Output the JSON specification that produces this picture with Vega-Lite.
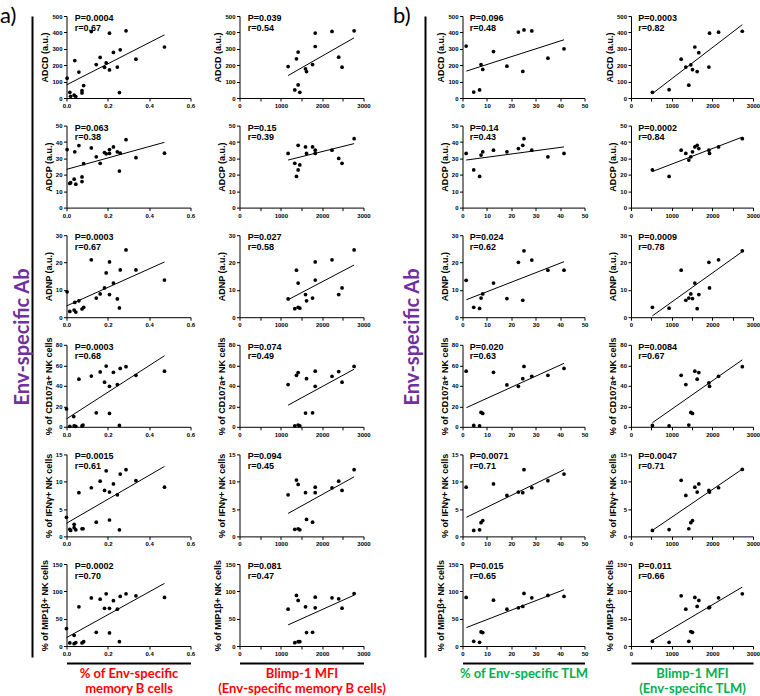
{
"$schema":"https://vega.github.io/schema/vega-lite/v6.json",
"padding":{"left":0,"top":5,"right":0,"bottom":0},
"config":{"view":{"stroke":null},"axis":{"grid":false,"domainColor":"#000","tickColor":"#000","labelColor":"#000","titleColor":"#000","labelFont":"Liberation Sans","labelFontSize":6,"labelFontWeight":"bold","titleFont":"Liberation Sans","titleFontSize":9,"titleFontWeight":"bold","tickSize":3,"labelPadding":1.5,"titlePadding":2,"domainWidth":1,"tickWidth":1,"labelOverlap":false,"labelFlush":false}},
"spacing":4.5,
"hconcat":[
{"width":1,"height":641,"data":{"values":[{"v":0},{"v":1}]},"mark":{"type":"point","opacity":0},
 "encoding":{"y":{"field":"v","type":"quantitative","scale":{"domain":[0,1]},"axis":{"title":"Env-specific Ab","labels":false,"ticks":false,"domainWidth":2,"titleColor":"#7030A0","titleFont":"Lato","titleFontSize":20,"titleFontWeight":"bold","titlePadding":0}}},
 "title":{"text":"a)","anchor":"start","frame":"group","baseline":"top","offset":-15,"dx":-32,"fontSize":22,"font":"Lato","fontWeight":"normal","color":"#000"}},
{"columns":2,"bounds":"flush","spacing":{"row":27.6,"column":49},"concat":[
{"width":124,"height":82,"data":{"values":[{"k":"p","x":0.003,"y":121},{"k":"p","x":0.016,"y":35},{"k":"p","x":0.02,"y":10},{"k":"p","x":0.037,"y":18},{"k":"p","x":0.04,"y":228},{"k":"p","x":0.045,"y":8},{"k":"p","x":0.06,"y":158},{"k":"p","x":0.075,"y":45},{"k":"p","x":0.075,"y":31},{"k":"p","x":0.083,"y":76},{"k":"p","x":0.12,"y":405},{"k":"p","x":0.144,"y":204},{"k":"p","x":0.163,"y":247},{"k":"p","x":0.184,"y":187},{"k":"p","x":0.192,"y":214},{"k":"p","x":0.208,"y":395},{"k":"p","x":0.208,"y":171},{"k":"p","x":0.227,"y":278},{"k":"p","x":0.246,"y":189},{"k":"p","x":0.256,"y":33},{"k":"p","x":0.26,"y":294},{"k":"p","x":0.288,"y":410},{"k":"p","x":0.336,"y":237},{"k":"p","x":0.474,"y":311},{"k":"f","x":0,"y":80},{"k":"f","x":0.474,"y":385},{"k":"a","x":0.04,"y":500,"t":"P=0.0004\nr=0.67"}]},
 "encoding":{"x":{"field":"x","type":"quantitative","scale":{"domain":[0,0.6]},"axis":{"values":[0,0.2,0.4,0.6],"format":".1f","title":null}},"y":{"field":"y","type":"quantitative","scale":{"domain":[0,500]},"axis":{"title":"ADCD (a.u.)","values":[0,100,200,300,400,500]}}},
 "layer":[{"transform":[{"filter":"datum.k=='p'"}],"mark":{"type":"circle","size":14,"color":"#000","opacity":1}},{"transform":[{"filter":"datum.k=='f'"}],"mark":{"type":"line","color":"#000","strokeWidth":1}},{"transform":[{"filter":"datum.k=='a'"}],"mark":{"type":"text","align":"left","baseline":"top","dy":-2,"lineBreak":"\n","font":"Liberation Sans","fontWeight":"bold","fontSize":9,"lineHeight":9.5,"color":"#000"},"encoding":{"text":{"field":"t"}}}]},
{"width":124,"height":82,"data":{"values":[{"k":"p","x":1176,"y":192},{"k":"p","x":1338,"y":49},{"k":"p","x":1378,"y":239},{"k":"p","x":1419,"y":280},{"k":"p","x":1419,"y":80},{"k":"p","x":1459,"y":35},{"k":"p","x":1597,"y":178},{"k":"p","x":1622,"y":161},{"k":"p","x":1768,"y":204},{"k":"p","x":1832,"y":396},{"k":"p","x":1832,"y":314},{"k":"p","x":2238,"y":406},{"k":"p","x":2400,"y":249},{"k":"p","x":2481,"y":188},{"k":"p","x":2773,"y":410},{"k":"f","x":1176,"y":137},{"k":"f","x":2773,"y":367},{"k":"a","x":200,"y":500,"t":"P=0.039\nr=0.54"}]},
 "encoding":{"x":{"field":"x","type":"quantitative","scale":{"domain":[0,3000]},"axis":{"values":[0,500,1000,1500,2000,2500,3000],"labelExpr":"datum.value % 1000 === 0 ? '' + datum.value : ''","title":null}},"y":{"field":"y","type":"quantitative","scale":{"domain":[0,500]},"axis":{"title":"ADCD (a.u.)","values":[0,100,200,300,400,500]}}},
 "layer":[{"transform":[{"filter":"datum.k=='p'"}],"mark":{"type":"circle","size":14,"color":"#000","opacity":1}},{"transform":[{"filter":"datum.k=='f'"}],"mark":{"type":"line","color":"#000","strokeWidth":1}},{"transform":[{"filter":"datum.k=='a'"}],"mark":{"type":"text","align":"left","baseline":"top","dy":-2,"lineBreak":"\n","font":"Liberation Sans","fontWeight":"bold","fontSize":9,"lineHeight":9.5,"color":"#000"},"encoding":{"text":{"field":"t"}}}]},
{"width":124,"height":82,"data":{"values":[{"k":"p","x":0.003,"y":35.4},{"k":"p","x":0.016,"y":14.7},{"k":"p","x":0.02,"y":15.2},{"k":"p","x":0.037,"y":17.3},{"k":"p","x":0.04,"y":34},{"k":"p","x":0.045,"y":14.3},{"k":"p","x":0.06,"y":37.8},{"k":"p","x":0.075,"y":18.7},{"k":"p","x":0.075,"y":15.9},{"k":"p","x":0.083,"y":26.8},{"k":"p","x":0.12,"y":36.4},{"k":"p","x":0.144,"y":31},{"k":"p","x":0.163,"y":27},{"k":"p","x":0.184,"y":33.6},{"k":"p","x":0.192,"y":32.8},{"k":"p","x":0.208,"y":35.4},{"k":"p","x":0.208,"y":33},{"k":"p","x":0.227,"y":37},{"k":"p","x":0.246,"y":34},{"k":"p","x":0.256,"y":22.3},{"k":"p","x":0.26,"y":33.2},{"k":"p","x":0.288,"y":41.4},{"k":"p","x":0.336,"y":30.4},{"k":"p","x":0.474,"y":33.2},{"k":"f","x":0,"y":23.3},{"k":"f","x":0.474,"y":39.8},{"k":"a","x":0.04,"y":50,"t":"P=0.063\nr=0.38"}]},
 "encoding":{"x":{"field":"x","type":"quantitative","scale":{"domain":[0,0.6]},"axis":{"values":[0,0.2,0.4,0.6],"format":".1f","title":null}},"y":{"field":"y","type":"quantitative","scale":{"domain":[0,50]},"axis":{"title":"ADCP (a.u.)","values":[0,10,20,30,40,50]}}},
 "layer":[{"transform":[{"filter":"datum.k=='p'"}],"mark":{"type":"circle","size":14,"color":"#000","opacity":1}},{"transform":[{"filter":"datum.k=='f'"}],"mark":{"type":"line","color":"#000","strokeWidth":1}},{"transform":[{"filter":"datum.k=='a'"}],"mark":{"type":"text","align":"left","baseline":"top","dy":-2,"lineBreak":"\n","font":"Liberation Sans","fontWeight":"bold","fontSize":9,"lineHeight":9.5,"color":"#000"},"encoding":{"text":{"field":"t"}}}]},
{"width":124,"height":82,"data":{"values":[{"k":"p","x":1176,"y":33},{"k":"p","x":1338,"y":27},{"k":"p","x":1378,"y":19},{"k":"p","x":1419,"y":38},{"k":"p","x":1419,"y":23},{"k":"p","x":1459,"y":26},{"k":"p","x":1597,"y":37},{"k":"p","x":1622,"y":33},{"k":"p","x":1768,"y":37},{"k":"p","x":1832,"y":35},{"k":"p","x":1832,"y":33},{"k":"p","x":2238,"y":35},{"k":"p","x":2400,"y":30},{"k":"p","x":2481,"y":27},{"k":"p","x":2773,"y":42},{"k":"f","x":1176,"y":29},{"k":"f","x":2773,"y":39},{"k":"a","x":200,"y":50,"t":"P=0.15\nr=0.39"}]},
 "encoding":{"x":{"field":"x","type":"quantitative","scale":{"domain":[0,3000]},"axis":{"values":[0,500,1000,1500,2000,2500,3000],"labelExpr":"datum.value % 1000 === 0 ? '' + datum.value : ''","title":null}},"y":{"field":"y","type":"quantitative","scale":{"domain":[0,50]},"axis":{"title":"ADCP (a.u.)","values":[0,10,20,30,40,50]}}},
 "layer":[{"transform":[{"filter":"datum.k=='p'"}],"mark":{"type":"circle","size":14,"color":"#000","opacity":1}},{"transform":[{"filter":"datum.k=='f'"}],"mark":{"type":"line","color":"#000","strokeWidth":1}},{"transform":[{"filter":"datum.k=='a'"}],"mark":{"type":"text","align":"left","baseline":"top","dy":-2,"lineBreak":"\n","font":"Liberation Sans","fontWeight":"bold","fontSize":9,"lineHeight":9.5,"color":"#000"},"encoding":{"text":{"field":"t"}}}]},
{"width":124,"height":82,"data":{"values":[{"k":"p","x":0.003,"y":9.3},{"k":"p","x":0.016,"y":2.1},{"k":"p","x":0.037,"y":2.6},{"k":"p","x":0.04,"y":5.4},{"k":"p","x":0.045,"y":1.9},{"k":"p","x":0.06,"y":6},{"k":"p","x":0.075,"y":3},{"k":"p","x":0.083,"y":3.6},{"k":"p","x":0.12,"y":21},{"k":"p","x":0.144,"y":7},{"k":"p","x":0.163,"y":8.5},{"k":"p","x":0.184,"y":10.7},{"k":"p","x":0.192,"y":16.2},{"k":"p","x":0.208,"y":20.2},{"k":"p","x":0.208,"y":8.3},{"k":"p","x":0.227,"y":12.5},{"k":"p","x":0.246,"y":6.7},{"k":"p","x":0.256,"y":3.4},{"k":"p","x":0.26,"y":17.3},{"k":"p","x":0.288,"y":24.6},{"k":"p","x":0.336,"y":17.3},{"k":"p","x":0.474,"y":13.6},{"k":"f","x":0,"y":4.1},{"k":"f","x":0.474,"y":20.2},{"k":"a","x":0.04,"y":30,"t":"P=0.0003\nr=0.67"}]},
 "encoding":{"x":{"field":"x","type":"quantitative","scale":{"domain":[0,0.6]},"axis":{"values":[0,0.2,0.4,0.6],"format":".1f","title":null}},"y":{"field":"y","type":"quantitative","scale":{"domain":[0,30]},"axis":{"title":"ADNP (a.u.)","values":[0,10,20,30]}}},
 "layer":[{"transform":[{"filter":"datum.k=='p'"}],"mark":{"type":"circle","size":14,"color":"#000","opacity":1}},{"transform":[{"filter":"datum.k=='f'"}],"mark":{"type":"line","color":"#000","strokeWidth":1}},{"transform":[{"filter":"datum.k=='a'"}],"mark":{"type":"text","align":"left","baseline":"top","dy":-2,"lineBreak":"\n","font":"Liberation Sans","fontWeight":"bold","fontSize":9,"lineHeight":9.5,"color":"#000"},"encoding":{"text":{"field":"t"}}}]},
{"width":124,"height":82,"data":{"values":[{"k":"p","x":1176,"y":6.7},{"k":"p","x":1338,"y":3.1},{"k":"p","x":1378,"y":17.2},{"k":"p","x":1419,"y":12.5},{"k":"p","x":1419,"y":3.6},{"k":"p","x":1459,"y":3.3},{"k":"p","x":1597,"y":8.3},{"k":"p","x":1622,"y":6},{"k":"p","x":1768,"y":7},{"k":"p","x":1832,"y":20.2},{"k":"p","x":1832,"y":13.6},{"k":"p","x":2238,"y":21},{"k":"p","x":2400,"y":8.3},{"k":"p","x":2481,"y":10.7},{"k":"p","x":2773,"y":24.6},{"k":"f","x":1176,"y":6.4},{"k":"f","x":2773,"y":19.1},{"k":"a","x":200,"y":30,"t":"P=0.027\nr=0.58"}]},
 "encoding":{"x":{"field":"x","type":"quantitative","scale":{"domain":[0,3000]},"axis":{"values":[0,500,1000,1500,2000,2500,3000],"labelExpr":"datum.value % 1000 === 0 ? '' + datum.value : ''","title":null}},"y":{"field":"y","type":"quantitative","scale":{"domain":[0,30]},"axis":{"title":"ADNP (a.u.)","values":[0,10,20,30]}}},
 "layer":[{"transform":[{"filter":"datum.k=='p'"}],"mark":{"type":"circle","size":14,"color":"#000","opacity":1}},{"transform":[{"filter":"datum.k=='f'"}],"mark":{"type":"line","color":"#000","strokeWidth":1}},{"transform":[{"filter":"datum.k=='a'"}],"mark":{"type":"text","align":"left","baseline":"top","dy":-2,"lineBreak":"\n","font":"Liberation Sans","fontWeight":"bold","fontSize":9,"lineHeight":9.5,"color":"#000"},"encoding":{"text":{"field":"t"}}}]},
{"width":124,"height":82,"data":{"values":[{"k":"p","x":0,"y":17.4},{"k":"p","x":0.016,"y":0.5},{"k":"p","x":0.035,"y":10},{"k":"p","x":0.037,"y":0.8},{"k":"p","x":0.045,"y":0.5},{"k":"p","x":0.06,"y":46.5},{"k":"p","x":0.075,"y":0.8},{"k":"p","x":0.08,"y":1.7},{"k":"p","x":0.12,"y":49.5},{"k":"p","x":0.144,"y":13.7},{"k":"p","x":0.163,"y":53.5},{"k":"p","x":0.184,"y":43.5},{"k":"p","x":0.192,"y":59.2},{"k":"p","x":0.208,"y":39.5},{"k":"p","x":0.208,"y":13},{"k":"p","x":0.227,"y":53.2},{"k":"p","x":0.246,"y":41.2},{"k":"p","x":0.256,"y":1.3},{"k":"p","x":0.26,"y":56.9},{"k":"p","x":0.288,"y":58.6},{"k":"p","x":0.336,"y":50.2},{"k":"p","x":0.474,"y":54.2},{"k":"f","x":0,"y":7.7},{"k":"f","x":0.474,"y":69.3},{"k":"a","x":0.04,"y":80,"t":"P=0.0003\nr=0.68"}]},
 "encoding":{"x":{"field":"x","type":"quantitative","scale":{"domain":[0,0.6]},"axis":{"values":[0,0.2,0.4,0.6],"format":".1f","title":null}},"y":{"field":"y","type":"quantitative","scale":{"domain":[0,80]},"axis":{"title":"% of CD107a+ NK cells","values":[0,20,40,60,80]}}},
 "layer":[{"transform":[{"filter":"datum.k=='p'"}],"mark":{"type":"circle","size":14,"color":"#000","opacity":1}},{"transform":[{"filter":"datum.k=='f'"}],"mark":{"type":"line","color":"#000","strokeWidth":1}},{"transform":[{"filter":"datum.k=='a'"}],"mark":{"type":"text","align":"left","baseline":"top","dy":-2,"lineBreak":"\n","font":"Liberation Sans","fontWeight":"bold","fontSize":9,"lineHeight":9.5,"color":"#000"},"encoding":{"text":{"field":"t"}}}]},
{"width":124,"height":82,"data":{"values":[{"k":"p","x":1176,"y":41.2},{"k":"p","x":1338,"y":1},{"k":"p","x":1378,"y":50.2},{"k":"p","x":1419,"y":52.9},{"k":"p","x":1419,"y":1.7},{"k":"p","x":1459,"y":1},{"k":"p","x":1597,"y":13.4},{"k":"p","x":1622,"y":46.9},{"k":"p","x":1768,"y":13.7},{"k":"p","x":1832,"y":54.2},{"k":"p","x":1832,"y":39.5},{"k":"p","x":2238,"y":49.2},{"k":"p","x":2400,"y":53.9},{"k":"p","x":2481,"y":43.5},{"k":"p","x":2773,"y":58.9},{"k":"f","x":1176,"y":21.1},{"k":"f","x":2773,"y":56.2},{"k":"a","x":200,"y":80,"t":"P=0.074\nr=0.49"}]},
 "encoding":{"x":{"field":"x","type":"quantitative","scale":{"domain":[0,3000]},"axis":{"values":[0,500,1000,1500,2000,2500,3000],"labelExpr":"datum.value % 1000 === 0 ? '' + datum.value : ''","title":null}},"y":{"field":"y","type":"quantitative","scale":{"domain":[0,80]},"axis":{"title":"% of CD107a+ NK cells","values":[0,20,40,60,80]}}},
 "layer":[{"transform":[{"filter":"datum.k=='p'"}],"mark":{"type":"circle","size":14,"color":"#000","opacity":1}},{"transform":[{"filter":"datum.k=='f'"}],"mark":{"type":"line","color":"#000","strokeWidth":1}},{"transform":[{"filter":"datum.k=='a'"}],"mark":{"type":"text","align":"left","baseline":"top","dy":-2,"lineBreak":"\n","font":"Liberation Sans","fontWeight":"bold","fontSize":9,"lineHeight":9.5,"color":"#000"},"encoding":{"text":{"field":"t"}}}]},
{"width":124,"height":82,"data":{"values":[{"k":"p","x":0,"y":3.5},{"k":"p","x":0.016,"y":1.3},{"k":"p","x":0.02,"y":1.1},{"k":"p","x":0.037,"y":2.2},{"k":"p","x":0.037,"y":1.6},{"k":"p","x":0.045,"y":1.2},{"k":"p","x":0.06,"y":8},{"k":"p","x":0.075,"y":1.4},{"k":"p","x":0.08,"y":1.4},{"k":"p","x":0.12,"y":8.9},{"k":"p","x":0.144,"y":2.6},{"k":"p","x":0.163,"y":10.1},{"k":"p","x":0.184,"y":8.4},{"k":"p","x":0.192,"y":12},{"k":"p","x":0.208,"y":8.1},{"k":"p","x":0.208,"y":3},{"k":"p","x":0.227,"y":9.6},{"k":"p","x":0.246,"y":7.6},{"k":"p","x":0.256,"y":1.2},{"k":"p","x":0.26,"y":11.4},{"k":"p","x":0.288,"y":12.2},{"k":"p","x":0.336,"y":10.2},{"k":"p","x":0.474,"y":9},{"k":"f","x":0,"y":2.4},{"k":"f","x":0.474,"y":12.8},{"k":"a","x":0.04,"y":15,"t":"P=0.0015\nr=0.61"}]},
 "encoding":{"x":{"field":"x","type":"quantitative","scale":{"domain":[0,0.6]},"axis":{"values":[0,0.2,0.4,0.6],"format":".1f","title":null}},"y":{"field":"y","type":"quantitative","scale":{"domain":[0,15]},"axis":{"title":"% of IFNγ+ NK cells","values":[0,5,10,15]}}},
 "layer":[{"transform":[{"filter":"datum.k=='p'"}],"mark":{"type":"circle","size":14,"color":"#000","opacity":1}},{"transform":[{"filter":"datum.k=='f'"}],"mark":{"type":"line","color":"#000","strokeWidth":1}},{"transform":[{"filter":"datum.k=='a'"}],"mark":{"type":"text","align":"left","baseline":"top","dy":-2,"lineBreak":"\n","font":"Liberation Sans","fontWeight":"bold","fontSize":9,"lineHeight":9.5,"color":"#000"},"encoding":{"text":{"field":"t"}}}]},
{"width":124,"height":82,"data":{"values":[{"k":"p","x":1176,"y":7.6},{"k":"p","x":1338,"y":1.3},{"k":"p","x":1378,"y":10.3},{"k":"p","x":1419,"y":9.5},{"k":"p","x":1419,"y":1.4},{"k":"p","x":1459,"y":1.2},{"k":"p","x":1597,"y":8},{"k":"p","x":1622,"y":3.1},{"k":"p","x":1768,"y":2.6},{"k":"p","x":1832,"y":9},{"k":"p","x":1832,"y":8},{"k":"p","x":2238,"y":8.9},{"k":"p","x":2400,"y":10.1},{"k":"p","x":2481,"y":8.4},{"k":"p","x":2773,"y":12.2},{"k":"f","x":1176,"y":4.2},{"k":"f","x":2773,"y":10.9},{"k":"a","x":200,"y":15,"t":"P=0.094\nr=0.45"}]},
 "encoding":{"x":{"field":"x","type":"quantitative","scale":{"domain":[0,3000]},"axis":{"values":[0,500,1000,1500,2000,2500,3000],"labelExpr":"datum.value % 1000 === 0 ? '' + datum.value : ''","title":null}},"y":{"field":"y","type":"quantitative","scale":{"domain":[0,15]},"axis":{"title":"% of IFNγ+ NK cells","values":[0,5,10,15]}}},
 "layer":[{"transform":[{"filter":"datum.k=='p'"}],"mark":{"type":"circle","size":14,"color":"#000","opacity":1}},{"transform":[{"filter":"datum.k=='f'"}],"mark":{"type":"line","color":"#000","strokeWidth":1}},{"transform":[{"filter":"datum.k=='a'"}],"mark":{"type":"text","align":"left","baseline":"top","dy":-2,"lineBreak":"\n","font":"Liberation Sans","fontWeight":"bold","fontSize":9,"lineHeight":9.5,"color":"#000"},"encoding":{"text":{"field":"t"}}}]},
{"width":124,"height":82,"data":{"values":[{"k":"p","x":0,"y":32},{"k":"p","x":0.016,"y":5.5},{"k":"p","x":0.037,"y":19.6},{"k":"p","x":0.037,"y":4.3},{"k":"p","x":0.045,"y":6},{"k":"p","x":0.06,"y":71.6},{"k":"p","x":0.075,"y":5.5},{"k":"p","x":0.083,"y":8},{"k":"p","x":0.12,"y":88},{"k":"p","x":0.144,"y":25},{"k":"p","x":0.163,"y":85.7},{"k":"p","x":0.184,"y":69},{"k":"p","x":0.192,"y":95.5},{"k":"p","x":0.208,"y":69},{"k":"p","x":0.208,"y":24},{"k":"p","x":0.227,"y":83},{"k":"p","x":0.246,"y":67.4},{"k":"p","x":0.256,"y":8},{"k":"p","x":0.26,"y":90.6},{"k":"p","x":0.288,"y":95.5},{"k":"p","x":0.336,"y":91.8},{"k":"p","x":0.474,"y":88.8},{"k":"f","x":0,"y":15.3},{"k":"f","x":0.474,"y":114.5},{"k":"a","x":0.04,"y":150,"t":"P=0.0002\nr=0.70"}]},
 "encoding":{"x":{"field":"x","type":"quantitative","scale":{"domain":[0,0.6]},"axis":{"values":[0,0.2,0.4,0.6],"format":".1f","title":null}},"y":{"field":"y","type":"quantitative","scale":{"domain":[0,150]},"axis":{"title":"% of MIP1β+ NK cells","values":[0,50,100,150]}}},
 "layer":[{"transform":[{"filter":"datum.k=='p'"}],"mark":{"type":"circle","size":14,"color":"#000","opacity":1}},{"transform":[{"filter":"datum.k=='f'"}],"mark":{"type":"line","color":"#000","strokeWidth":1}},{"transform":[{"filter":"datum.k=='a'"}],"mark":{"type":"text","align":"left","baseline":"top","dy":-2,"lineBreak":"\n","font":"Liberation Sans","fontWeight":"bold","fontSize":9,"lineHeight":9.5,"color":"#000"},"encoding":{"text":{"field":"t"}}}]},
{"width":124,"height":82,"data":{"values":[{"k":"p","x":1176,"y":67.4},{"k":"p","x":1338,"y":6},{"k":"p","x":1378,"y":92.5},{"k":"p","x":1419,"y":83.3},{"k":"p","x":1419,"y":8},{"k":"p","x":1459,"y":8},{"k":"p","x":1597,"y":71.6},{"k":"p","x":1622,"y":24.5},{"k":"p","x":1768,"y":25},{"k":"p","x":1832,"y":89.4},{"k":"p","x":1832,"y":69.8},{"k":"p","x":2238,"y":88.2},{"k":"p","x":2400,"y":86.3},{"k":"p","x":2481,"y":69.2},{"k":"p","x":2773,"y":96},{"k":"f","x":1176,"y":38.6},{"k":"f","x":2773,"y":93},{"k":"a","x":200,"y":150,"t":"P=0.081\nr=0.47"}]},
 "encoding":{"x":{"field":"x","type":"quantitative","scale":{"domain":[0,3000]},"axis":{"values":[0,500,1000,1500,2000,2500,3000],"labelExpr":"datum.value % 1000 === 0 ? '' + datum.value : ''","title":null}},"y":{"field":"y","type":"quantitative","scale":{"domain":[0,150]},"axis":{"title":"% of MIP1β+ NK cells","values":[0,50,100,150]}}},
 "layer":[{"transform":[{"filter":"datum.k=='p'"}],"mark":{"type":"circle","size":14,"color":"#000","opacity":1}},{"transform":[{"filter":"datum.k=='f'"}],"mark":{"type":"line","color":"#000","strokeWidth":1}},{"transform":[{"filter":"datum.k=='a'"}],"mark":{"type":"text","align":"left","baseline":"top","dy":-2,"lineBreak":"\n","font":"Liberation Sans","fontWeight":"bold","fontSize":9,"lineHeight":9.5,"color":"#000"},"encoding":{"text":{"field":"t"}}}]},
{"width":124,"height":1,"data":{"values":[{"v":0},{"v":1}]},"mark":{"type":"point","opacity":0},"encoding":{"x":{"field":"v","type":"quantitative","axis":{"title":["% of Env-specific","memory B cells"],"labels":false,"ticks":false,"domainWidth":2,"offset":-11.6,"titleColor":"#FF0000","titleFont":"Lato","titleFontSize":13,"titleFontWeight":"bold","titlePadding":4,"titleLineHeight":15}}}},
{"width":124,"height":1,"data":{"values":[{"v":0},{"v":1}]},"mark":{"type":"point","opacity":0},"encoding":{"x":{"field":"v","type":"quantitative","axis":{"title":["Blimp-1 MFI","(Env-specific memory B cells)"],"labels":false,"ticks":false,"domainWidth":2,"offset":-11.6,"titleColor":"#FF0000","titleFont":"Lato","titleFontSize":13,"titleFontWeight":"bold","titlePadding":4,"titleLineHeight":15}}}}
]},
{"width":42,"height":641,"data":{"values":[{"v":0},{"v":1}]},"mark":{"type":"point","opacity":0},
 "encoding":{"y":{"field":"v","type":"quantitative","scale":{"domain":[0,1]},"axis":{"title":"Env-specific Ab","labels":false,"ticks":false,"domainWidth":2,"offset":-35,"titleColor":"#7030A0","titleFont":"Lato","titleFontSize":20,"titleFontWeight":"bold","titlePadding":3}}},
 "title":{"text":"b)","anchor":"start","frame":"group","baseline":"top","offset":-15,"dx":3,"fontSize":22,"font":"Lato","fontWeight":"normal","color":"#000"}},
{"columns":2,"bounds":"flush","spacing":{"row":27.6,"column":46.5},"concat":[
{"width":122,"height":82,"data":{"values":[{"k":"p","x":1.5,"y":317},{"k":"p","x":4.6,"y":36},{"k":"p","x":7,"y":49},{"k":"p","x":7.6,"y":204},{"k":"p","x":8.3,"y":174},{"k":"p","x":12.7,"y":283},{"k":"p","x":18.2,"y":194},{"k":"p","x":22.9,"y":402},{"k":"p","x":24.7,"y":162},{"k":"p","x":25.2,"y":415},{"k":"p","x":28.4,"y":409},{"k":"p","x":35,"y":243},{"k":"p","x":41.6,"y":300},{"k":"f","x":1.6,"y":164},{"k":"f","x":41.6,"y":355},{"k":"a","x":3,"y":500,"t":"P=0.096\nr=0.48"}]},
 "encoding":{"x":{"field":"x","type":"quantitative","scale":{"domain":[0,50]},"axis":{"values":[0,10,20,30,40,50],"title":null}},"y":{"field":"y","type":"quantitative","scale":{"domain":[0,500]},"axis":{"title":"ADCD (a.u.)","values":[0,100,200,300,400,500]}}},
 "layer":[{"transform":[{"filter":"datum.k=='p'"}],"mark":{"type":"circle","size":14,"color":"#000","opacity":1}},{"transform":[{"filter":"datum.k=='f'"}],"mark":{"type":"line","color":"#000","strokeWidth":1}},{"transform":[{"filter":"datum.k=='a'"}],"mark":{"type":"text","align":"left","baseline":"top","dy":-2,"lineBreak":"\n","font":"Liberation Sans","fontWeight":"bold","fontSize":9,"lineHeight":9.5,"color":"#000"},"encoding":{"text":{"field":"t"}}}]},
{"width":122,"height":82,"data":{"values":[{"k":"p","x":526,"y":35},{"k":"p","x":937,"y":51},{"k":"p","x":1233,"y":237},{"k":"p","x":1348,"y":189},{"k":"p","x":1422,"y":78},{"k":"p","x":1471,"y":202},{"k":"p","x":1512,"y":173},{"k":"p","x":1570,"y":311},{"k":"p","x":1627,"y":161},{"k":"p","x":1668,"y":276},{"k":"p","x":1915,"y":189},{"k":"p","x":1931,"y":395},{"k":"p","x":2153,"y":401},{"k":"p","x":2737,"y":407},{"k":"f","x":526,"y":27},{"k":"f","x":2737,"y":447},{"k":"a","x":180,"y":500,"t":"P=0.0003\nr=0.82"}]},
 "encoding":{"x":{"field":"x","type":"quantitative","scale":{"domain":[0,3000]},"axis":{"values":[0,500,1000,1500,2000,2500,3000],"labelExpr":"datum.value % 1000 === 0 ? '' + datum.value : ''","title":null}},"y":{"field":"y","type":"quantitative","scale":{"domain":[0,500]},"axis":{"title":"ADCD (a.u.)","values":[0,100,200,300,400,500]}}},
 "layer":[{"transform":[{"filter":"datum.k=='p'"}],"mark":{"type":"circle","size":14,"color":"#000","opacity":1}},{"transform":[{"filter":"datum.k=='f'"}],"mark":{"type":"line","color":"#000","strokeWidth":1}},{"transform":[{"filter":"datum.k=='a'"}],"mark":{"type":"text","align":"left","baseline":"top","dy":-2,"lineBreak":"\n","font":"Liberation Sans","fontWeight":"bold","fontSize":9,"lineHeight":9.5,"color":"#000"},"encoding":{"text":{"field":"t"}}}]},
{"width":122,"height":82,"data":{"values":[{"k":"p","x":1.5,"y":33},{"k":"p","x":4.6,"y":23},{"k":"p","x":7,"y":19},{"k":"p","x":7.6,"y":32},{"k":"p","x":8.3,"y":34},{"k":"p","x":12.7,"y":35},{"k":"p","x":18.2,"y":34},{"k":"p","x":22.9,"y":36},{"k":"p","x":24.7,"y":38},{"k":"p","x":25.2,"y":42},{"k":"p","x":28.4,"y":35},{"k":"p","x":35,"y":31},{"k":"p","x":41.6,"y":33},{"k":"f","x":1.5,"y":29},{"k":"f","x":41.6,"y":37},{"k":"a","x":3,"y":50,"t":"P=0.14\nr=0.43"}]},
 "encoding":{"x":{"field":"x","type":"quantitative","scale":{"domain":[0,50]},"axis":{"values":[0,10,20,30,40,50],"title":null}},"y":{"field":"y","type":"quantitative","scale":{"domain":[0,50]},"axis":{"title":"ADCP (a.u.)","values":[0,10,20,30,40,50]}}},
 "layer":[{"transform":[{"filter":"datum.k=='p'"}],"mark":{"type":"circle","size":14,"color":"#000","opacity":1}},{"transform":[{"filter":"datum.k=='f'"}],"mark":{"type":"line","color":"#000","strokeWidth":1}},{"transform":[{"filter":"datum.k=='a'"}],"mark":{"type":"text","align":"left","baseline":"top","dy":-2,"lineBreak":"\n","font":"Liberation Sans","fontWeight":"bold","fontSize":9,"lineHeight":9.5,"color":"#000"},"encoding":{"text":{"field":"t"}}}]},
{"width":122,"height":82,"data":{"values":[{"k":"p","x":526,"y":23},{"k":"p","x":937,"y":19},{"k":"p","x":1233,"y":35},{"k":"p","x":1348,"y":33},{"k":"p","x":1422,"y":29},{"k":"p","x":1471,"y":31},{"k":"p","x":1512,"y":34},{"k":"p","x":1570,"y":37},{"k":"p","x":1627,"y":38},{"k":"p","x":1668,"y":36},{"k":"p","x":1915,"y":35},{"k":"p","x":1931,"y":33},{"k":"p","x":2153,"y":37},{"k":"p","x":2737,"y":42},{"k":"f","x":526,"y":22},{"k":"f","x":2737,"y":43},{"k":"a","x":180,"y":50,"t":"P=0.0002\nr=0.84"}]},
 "encoding":{"x":{"field":"x","type":"quantitative","scale":{"domain":[0,3000]},"axis":{"values":[0,500,1000,1500,2000,2500,3000],"labelExpr":"datum.value % 1000 === 0 ? '' + datum.value : ''","title":null}},"y":{"field":"y","type":"quantitative","scale":{"domain":[0,50]},"axis":{"title":"ADCP (a.u.)","values":[0,10,20,30,40,50]}}},
 "layer":[{"transform":[{"filter":"datum.k=='p'"}],"mark":{"type":"circle","size":14,"color":"#000","opacity":1}},{"transform":[{"filter":"datum.k=='f'"}],"mark":{"type":"line","color":"#000","strokeWidth":1}},{"transform":[{"filter":"datum.k=='a'"}],"mark":{"type":"text","align":"left","baseline":"top","dy":-2,"lineBreak":"\n","font":"Liberation Sans","fontWeight":"bold","fontSize":9,"lineHeight":9.5,"color":"#000"},"encoding":{"text":{"field":"t"}}}]},
{"width":122,"height":82,"data":{"values":[{"k":"p","x":1.5,"y":13.5},{"k":"p","x":4.6,"y":3.6},{"k":"p","x":7,"y":3.2},{"k":"p","x":7.6,"y":7},{"k":"p","x":8.3,"y":8.5},{"k":"p","x":12.7,"y":12.5},{"k":"p","x":18.2,"y":6.8},{"k":"p","x":22.9,"y":20.1},{"k":"p","x":24.7,"y":6.2},{"k":"p","x":25.2,"y":24.3},{"k":"p","x":28.4,"y":20.9},{"k":"p","x":35,"y":17.2},{"k":"p","x":41.6,"y":17.2},{"k":"f","x":1.6,"y":6.4},{"k":"f","x":41.6,"y":20.3},{"k":"a","x":3,"y":30,"t":"P=0.024\nr=0.62"}]},
 "encoding":{"x":{"field":"x","type":"quantitative","scale":{"domain":[0,50]},"axis":{"values":[0,10,20,30,40,50],"title":null}},"y":{"field":"y","type":"quantitative","scale":{"domain":[0,30]},"axis":{"title":"ADNP (a.u.)","values":[0,10,20,30]}}},
 "layer":[{"transform":[{"filter":"datum.k=='p'"}],"mark":{"type":"circle","size":14,"color":"#000","opacity":1}},{"transform":[{"filter":"datum.k=='f'"}],"mark":{"type":"line","color":"#000","strokeWidth":1}},{"transform":[{"filter":"datum.k=='a'"}],"mark":{"type":"text","align":"left","baseline":"top","dy":-2,"lineBreak":"\n","font":"Liberation Sans","fontWeight":"bold","fontSize":9,"lineHeight":9.5,"color":"#000"},"encoding":{"text":{"field":"t"}}}]},
{"width":122,"height":82,"data":{"values":[{"k":"p","x":526,"y":3.6},{"k":"p","x":937,"y":3.3},{"k":"p","x":1233,"y":17.2},{"k":"p","x":1348,"y":6.2},{"k":"p","x":1422,"y":7},{"k":"p","x":1471,"y":8.5},{"k":"p","x":1512,"y":6.8},{"k":"p","x":1570,"y":12.5},{"k":"p","x":1627,"y":3.1},{"k":"p","x":1668,"y":8.3},{"k":"p","x":1915,"y":20.1},{"k":"p","x":1931,"y":10.7},{"k":"p","x":2153,"y":21},{"k":"p","x":2737,"y":24.3},{"k":"f","x":526,"y":0.5},{"k":"f","x":2737,"y":24},{"k":"a","x":180,"y":30,"t":"P=0.0009\nr=0.78"}]},
 "encoding":{"x":{"field":"x","type":"quantitative","scale":{"domain":[0,3000]},"axis":{"values":[0,500,1000,1500,2000,2500,3000],"labelExpr":"datum.value % 1000 === 0 ? '' + datum.value : ''","title":null}},"y":{"field":"y","type":"quantitative","scale":{"domain":[0,30]},"axis":{"title":"ADNP (a.u.)","values":[0,10,20,30]}}},
 "layer":[{"transform":[{"filter":"datum.k=='p'"}],"mark":{"type":"circle","size":14,"color":"#000","opacity":1}},{"transform":[{"filter":"datum.k=='f'"}],"mark":{"type":"line","color":"#000","strokeWidth":1}},{"transform":[{"filter":"datum.k=='a'"}],"mark":{"type":"text","align":"left","baseline":"top","dy":-2,"lineBreak":"\n","font":"Liberation Sans","fontWeight":"bold","fontSize":9,"lineHeight":9.5,"color":"#000"},"encoding":{"text":{"field":"t"}}}]},
{"width":122,"height":82,"data":{"values":[{"k":"p","x":1.5,"y":54.2},{"k":"p","x":4.6,"y":1.3},{"k":"p","x":7,"y":1},{"k":"p","x":7.6,"y":14},{"k":"p","x":8.3,"y":13},{"k":"p","x":12.7,"y":53.2},{"k":"p","x":18.2,"y":40.8},{"k":"p","x":22.9,"y":39.5},{"k":"p","x":24.7,"y":46.9},{"k":"p","x":25.2,"y":58.9},{"k":"p","x":28.4,"y":49.2},{"k":"p","x":35,"y":50.2},{"k":"p","x":41.6,"y":56.9},{"k":"f","x":1.6,"y":18.7},{"k":"f","x":41.6,"y":61.9},{"k":"a","x":3,"y":80,"t":"P=0.020\nr=0.63"}]},
 "encoding":{"x":{"field":"x","type":"quantitative","scale":{"domain":[0,50]},"axis":{"values":[0,10,20,30,40,50],"title":null}},"y":{"field":"y","type":"quantitative","scale":{"domain":[0,80]},"axis":{"title":"% of CD107a+ NK cells","values":[0,20,40,60,80]}}},
 "layer":[{"transform":[{"filter":"datum.k=='p'"}],"mark":{"type":"circle","size":14,"color":"#000","opacity":1}},{"transform":[{"filter":"datum.k=='f'"}],"mark":{"type":"line","color":"#000","strokeWidth":1}},{"transform":[{"filter":"datum.k=='a'"}],"mark":{"type":"text","align":"left","baseline":"top","dy":-2,"lineBreak":"\n","font":"Liberation Sans","fontWeight":"bold","fontSize":9,"lineHeight":9.5,"color":"#000"},"encoding":{"text":{"field":"t"}}}]},
{"width":122,"height":82,"data":{"values":[{"k":"p","x":526,"y":1.3},{"k":"p","x":937,"y":1},{"k":"p","x":1233,"y":50.2},{"k":"p","x":1348,"y":41.2},{"k":"p","x":1422,"y":1.7},{"k":"p","x":1471,"y":14},{"k":"p","x":1512,"y":13},{"k":"p","x":1570,"y":54.2},{"k":"p","x":1627,"y":46.5},{"k":"p","x":1668,"y":52.9},{"k":"p","x":1915,"y":42.8},{"k":"p","x":1931,"y":39.5},{"k":"p","x":2153,"y":49.2},{"k":"p","x":2737,"y":58.6},{"k":"f","x":526,"y":4},{"k":"f","x":2737,"y":65.3},{"k":"a","x":180,"y":80,"t":"P=0.0084\nr=0.67"}]},
 "encoding":{"x":{"field":"x","type":"quantitative","scale":{"domain":[0,3000]},"axis":{"values":[0,500,1000,1500,2000,2500,3000],"labelExpr":"datum.value % 1000 === 0 ? '' + datum.value : ''","title":null}},"y":{"field":"y","type":"quantitative","scale":{"domain":[0,80]},"axis":{"title":"% of CD107a+ NK cells","values":[0,20,40,60,80]}}},
 "layer":[{"transform":[{"filter":"datum.k=='p'"}],"mark":{"type":"circle","size":14,"color":"#000","opacity":1}},{"transform":[{"filter":"datum.k=='f'"}],"mark":{"type":"line","color":"#000","strokeWidth":1}},{"transform":[{"filter":"datum.k=='a'"}],"mark":{"type":"text","align":"left","baseline":"top","dy":-2,"lineBreak":"\n","font":"Liberation Sans","fontWeight":"bold","fontSize":9,"lineHeight":9.5,"color":"#000"},"encoding":{"text":{"field":"t"}}}]},
{"width":122,"height":82,"data":{"values":[{"k":"p","x":1.5,"y":9},{"k":"p","x":4.6,"y":1.1},{"k":"p","x":7,"y":1.2},{"k":"p","x":7.6,"y":2.5},{"k":"p","x":8.3,"y":2.9},{"k":"p","x":12.7,"y":9.6},{"k":"p","x":18.2,"y":7.5},{"k":"p","x":22.9,"y":8.1},{"k":"p","x":24.7,"y":8},{"k":"p","x":25.2,"y":12.2},{"k":"p","x":28.4,"y":8.9},{"k":"p","x":35,"y":10.2},{"k":"p","x":41.6,"y":11.4},{"k":"f","x":1.6,"y":3.5},{"k":"f","x":41.6,"y":12.2},{"k":"a","x":3,"y":15,"t":"P=0.0071\nr=0.71"}]},
 "encoding":{"x":{"field":"x","type":"quantitative","scale":{"domain":[0,50]},"axis":{"values":[0,10,20,30,40,50],"title":null}},"y":{"field":"y","type":"quantitative","scale":{"domain":[0,15]},"axis":{"title":"% of IFNγ+ NK cells","values":[0,5,10,15]}}},
 "layer":[{"transform":[{"filter":"datum.k=='p'"}],"mark":{"type":"circle","size":14,"color":"#000","opacity":1}},{"transform":[{"filter":"datum.k=='f'"}],"mark":{"type":"line","color":"#000","strokeWidth":1}},{"transform":[{"filter":"datum.k=='a'"}],"mark":{"type":"text","align":"left","baseline":"top","dy":-2,"lineBreak":"\n","font":"Liberation Sans","fontWeight":"bold","fontSize":9,"lineHeight":9.5,"color":"#000"},"encoding":{"text":{"field":"t"}}}]},
{"width":122,"height":82,"data":{"values":[{"k":"p","x":526,"y":1.1},{"k":"p","x":937,"y":1.25},{"k":"p","x":1233,"y":10.25},{"k":"p","x":1348,"y":7.5},{"k":"p","x":1422,"y":1.4},{"k":"p","x":1471,"y":2.5},{"k":"p","x":1512,"y":2.9},{"k":"p","x":1570,"y":9},{"k":"p","x":1627,"y":8.1},{"k":"p","x":1668,"y":9.6},{"k":"p","x":1915,"y":8.4},{"k":"p","x":1931,"y":8.1},{"k":"p","x":2153,"y":8.9},{"k":"p","x":2737,"y":12.25},{"k":"f","x":526,"y":1.1},{"k":"f","x":2737,"y":12.3},{"k":"a","x":180,"y":15,"t":"P=0.0047\nr=0.71"}]},
 "encoding":{"x":{"field":"x","type":"quantitative","scale":{"domain":[0,3000]},"axis":{"values":[0,500,1000,1500,2000,2500,3000],"labelExpr":"datum.value % 1000 === 0 ? '' + datum.value : ''","title":null}},"y":{"field":"y","type":"quantitative","scale":{"domain":[0,15]},"axis":{"title":"% of IFNγ+ NK cells","values":[0,5,10,15]}}},
 "layer":[{"transform":[{"filter":"datum.k=='p'"}],"mark":{"type":"circle","size":14,"color":"#000","opacity":1}},{"transform":[{"filter":"datum.k=='f'"}],"mark":{"type":"line","color":"#000","strokeWidth":1}},{"transform":[{"filter":"datum.k=='a'"}],"mark":{"type":"text","align":"left","baseline":"top","dy":-2,"lineBreak":"\n","font":"Liberation Sans","fontWeight":"bold","fontSize":9,"lineHeight":9.5,"color":"#000"},"encoding":{"text":{"field":"t"}}}]},
{"width":122,"height":82,"data":{"values":[{"k":"p","x":1.5,"y":88.8},{"k":"p","x":4.6,"y":8.6},{"k":"p","x":7,"y":6.7},{"k":"p","x":7.6,"y":25.7},{"k":"p","x":8.3,"y":24.5},{"k":"p","x":12.7,"y":83.9},{"k":"p","x":18.2,"y":67.4},{"k":"p","x":22.9,"y":69.8},{"k":"p","x":24.7,"y":72.3},{"k":"p","x":25.2,"y":96.1},{"k":"p","x":28.4,"y":88.2},{"k":"p","x":35,"y":92.5},{"k":"p","x":41.6,"y":90.6},{"k":"f","x":1.6,"y":33.7},{"k":"f","x":41.6,"y":102.9},{"k":"a","x":3,"y":150,"t":"P=0.015\nr=0.65"}]},
 "encoding":{"x":{"field":"x","type":"quantitative","scale":{"domain":[0,50]},"axis":{"values":[0,10,20,30,40,50],"title":null}},"y":{"field":"y","type":"quantitative","scale":{"domain":[0,150]},"axis":{"title":"% of MIP1β+ NK cells","values":[0,50,100,150]}}},
 "layer":[{"transform":[{"filter":"datum.k=='p'"}],"mark":{"type":"circle","size":14,"color":"#000","opacity":1}},{"transform":[{"filter":"datum.k=='f'"}],"mark":{"type":"line","color":"#000","strokeWidth":1}},{"transform":[{"filter":"datum.k=='a'"}],"mark":{"type":"text","align":"left","baseline":"top","dy":-2,"lineBreak":"\n","font":"Liberation Sans","fontWeight":"bold","fontSize":9,"lineHeight":9.5,"color":"#000"},"encoding":{"text":{"field":"t"}}}]},
{"width":122,"height":82,"data":{"values":[{"k":"p","x":526,"y":8.6},{"k":"p","x":937,"y":6.7},{"k":"p","x":1233,"y":91.9},{"k":"p","x":1348,"y":67.4},{"k":"p","x":1422,"y":8.6},{"k":"p","x":1471,"y":26.3},{"k":"p","x":1512,"y":25.1},{"k":"p","x":1570,"y":88.8},{"k":"p","x":1627,"y":72.3},{"k":"p","x":1668,"y":83.3},{"k":"p","x":1915,"y":69.8},{"k":"p","x":1931,"y":71},{"k":"p","x":2153,"y":88.2},{"k":"p","x":2737,"y":95.5},{"k":"f","x":526,"y":10.4},{"k":"f","x":2737,"y":107.8},{"k":"a","x":180,"y":150,"t":"P=0.011\nr=0.66"}]},
 "encoding":{"x":{"field":"x","type":"quantitative","scale":{"domain":[0,3000]},"axis":{"values":[0,500,1000,1500,2000,2500,3000],"labelExpr":"datum.value % 1000 === 0 ? '' + datum.value : ''","title":null}},"y":{"field":"y","type":"quantitative","scale":{"domain":[0,150]},"axis":{"title":"% of MIP1β+ NK cells","values":[0,50,100,150]}}},
 "layer":[{"transform":[{"filter":"datum.k=='p'"}],"mark":{"type":"circle","size":14,"color":"#000","opacity":1}},{"transform":[{"filter":"datum.k=='f'"}],"mark":{"type":"line","color":"#000","strokeWidth":1}},{"transform":[{"filter":"datum.k=='a'"}],"mark":{"type":"text","align":"left","baseline":"top","dy":-2,"lineBreak":"\n","font":"Liberation Sans","fontWeight":"bold","fontSize":9,"lineHeight":9.5,"color":"#000"},"encoding":{"text":{"field":"t"}}}]},
{"width":122,"height":1,"data":{"values":[{"v":0},{"v":1}]},"mark":{"type":"point","opacity":0},"encoding":{"x":{"field":"v","type":"quantitative","axis":{"title":"% of Env-specific TLM","labels":false,"ticks":false,"domainWidth":2,"offset":-11.6,"titleColor":"#00B050","titleFont":"Lato","titleFontSize":13,"titleFontWeight":"bold","titlePadding":4,"titleLineHeight":15}}}},
{"width":122,"height":1,"data":{"values":[{"v":0},{"v":1}]},"mark":{"type":"point","opacity":0},"encoding":{"x":{"field":"v","type":"quantitative","axis":{"title":["Blimp-1 MFI","(Env-specific TLM)"],"labels":false,"ticks":false,"domainWidth":2,"offset":-11.6,"titleColor":"#00B050","titleFont":"Lato","titleFontSize":13,"titleFontWeight":"bold","titlePadding":4,"titleLineHeight":15}}}}
]}
]
}
